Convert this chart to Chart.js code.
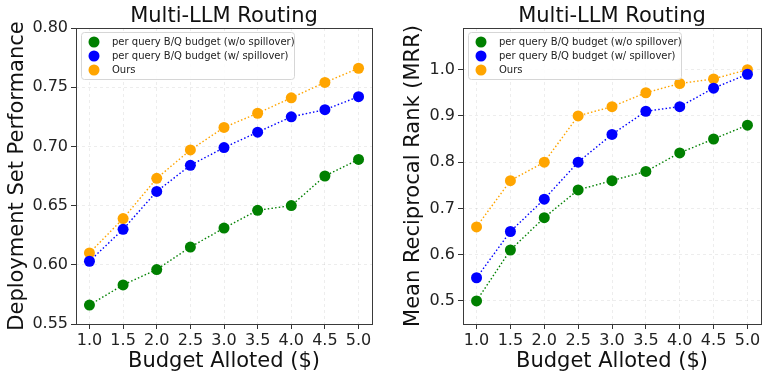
<!DOCTYPE html>
<html><head><meta charset="utf-8">
<script src="https://cdn.jsdelivr.net/npm/chart.js@4"></script>
<style>
html,body{margin:0;padding:0;background:#fff;}
#wrap{position:relative;width:767px;height:378px;}
#c1{position:absolute;left:0;top:0;}
#c2{position:absolute;left:384px;top:0;}
</style></head><body>
<div id="wrap"><canvas id="c1" width="384" height="378"></canvas><canvas id="c2" width="383" height="378"></canvas></div>
<script>
const budgets = [1.0, 1.5, 2.0, 2.5, 3.0, 3.5, 4.0, 4.5, 5.0];
const seriesLabels = ['per query B/Q budget (w/o spillover)', 'per query B/Q budget (w/ spillover)', 'Ours'];
const chartTitle = 'Multi-LLM Routing';
const xTitle = 'Budget Alloted ($)';

// Left panel: Deployment Set Performance
const perfNoSpill = [0.566, 0.583, 0.596, 0.615, 0.631, 0.646, 0.650, 0.675, 0.689];
const perfSpill   = [0.603, 0.630, 0.662, 0.684, 0.699, 0.712, 0.725, 0.731, 0.742];
const perfOurs    = [0.610, 0.639, 0.673, 0.697, 0.716, 0.728, 0.741, 0.754, 0.766];
const perfTicks   = [0.55, 0.60, 0.65, 0.70, 0.75, 0.80];

// Right panel: Mean Reciprocal Rank
const mrrNoSpill = [0.50, 0.61, 0.68, 0.74, 0.76, 0.78, 0.82, 0.85, 0.88];
const mrrSpill   = [0.55, 0.65, 0.72, 0.80, 0.86, 0.91, 0.92, 0.96, 0.99];
const mrrOurs    = [0.66, 0.76, 0.80, 0.90, 0.92, 0.95, 0.97, 0.98, 1.00];
const mrrTicks   = [0.5, 0.6, 0.7, 0.8, 0.9, 1.0];

const colors = ['#008000', '#0000ff', '#ffa500'];
const FONT = "'DejaVu Sans', sans-serif";

function mkDatasets(arrs) {
  return arrs.map((a, i) => ({
    label: seriesLabels[i],
    data: budgets.map((b, j) => ({x: b, y: a[j]})),
    borderColor: colors[i],
    backgroundColor: colors[i],
    pointBackgroundColor: colors[i],
    pointBorderColor: colors[i],
    pointRadius: 5.5,
    pointBorderWidth: 0,
    borderWidth: 1.4,
    borderDash: [1.5, 2.2],
    showLine: true,
    tension: 0,
    fill: false
  }));
}

const framePlugin = {
  id: 'frame',
  afterDraw(chart) {
    const {ctx, chartArea: a} = chart;
    ctx.save();
    ctx.strokeStyle = '#3a3a3a';
    ctx.lineWidth = 1;
    ctx.strokeRect(Math.round(a.left) + 0.5, Math.round(a.top) + 0.5, Math.round(a.right - a.left), Math.round(a.bottom - a.top));
    // title
    ctx.fillStyle = '#111';
    ctx.font = "21px " + FONT;
    ctx.textAlign = 'center';
    ctx.textBaseline = 'alphabetic';
    ctx.fillText(chartTitle, (a.left + a.right) / 2, 22);
    // legend
    const lx = a.left + 5, ly = a.top + 4, w = 213, h = 47;
    ctx.beginPath();
    if (ctx.roundRect) ctx.roundRect(lx + 0.5, ly + 0.5, w, h, 3); else ctx.rect(lx + 0.5, ly + 0.5, w, h);
    ctx.fillStyle = 'rgba(255,255,255,0.85)';
    ctx.fill();
    ctx.strokeStyle = '#d6d6d6';
    ctx.stroke();
    chart.data.datasets.forEach((ds, i) => {
      const cy = ly + 10 + i * 14;
      ctx.beginPath();
      ctx.arc(lx + 13, cy, 5.5, 0, Math.PI * 2);
      ctx.fillStyle = ds.backgroundColor;
      ctx.fill();
      ctx.fillStyle = '#222';
      ctx.font = "10px " + FONT;
      ctx.textAlign = 'left';
      ctx.textBaseline = 'middle';
      ctx.fillText(ds.label, lx + 31, cy);
    });
    ctx.restore();
  }
};

function mkChart(id, arrs, yTicks, ymin, ymax, yTitle, yWidth, padRight, yTitlePad, decimals) {
  return new Chart(document.getElementById(id), {
    type: 'scatter',
    data: {datasets: mkDatasets(arrs)},
    options: {
      responsive: false,
      animation: false,
      devicePixelRatio: 1,
      layout: {padding: {left: 0, right: padRight, top: 28, bottom: 0}},
      plugins: {legend: {display: false}, title: {display: false}, tooltip: {enabled: false}},
      scales: {
        x: {
          type: 'linear', min: 0.8, max: 5.2,
          afterFit(s) { s.height = 54; },
          afterBuildTicks(s) { s.ticks = budgets.map(v => ({value: v})); },
          ticks: {color: '#222', font: {family: FONT, size: 16}, padding: 2, maxRotation: 0,
                  callback: v => Number(v).toFixed(1)},
          grid: {color: 'rgba(0,0,0,0.07)', tickColor: '#333', tickLength: 5, tickBorderDash: []},
          border: {display: false, dash: [3, 3]},
          title: {display: true, text: xTitle, color: '#111', font: {family: FONT, size: 21}, padding: {top: 0, bottom: 4}}
        },
        y: {
          type: 'linear', min: ymin, max: ymax,
          afterFit(s) { s.width = yWidth; },
          afterBuildTicks(s) { s.ticks = yTicks.map(v => ({value: v})); },
          ticks: {color: '#222', font: {family: FONT, size: 16}, padding: 3,
                  callback: v => Number(v).toFixed(decimals)},
          grid: {color: 'rgba(0,0,0,0.07)', tickColor: '#333', tickLength: 5, tickBorderDash: []},
          border: {display: false, dash: [3, 3]},
          title: {display: true, text: yTitle, color: '#111', font: {family: FONT, size: 21}, padding: {top: yTitlePad, bottom: 0}}
        }
      }
    },
    plugins: [framePlugin]
  });
}

mkChart('c1', [perfNoSpill, perfSpill, perfOurs], perfTicks, 0.55, 0.80, 'Deployment Set Performance', 76, 12, 5, 2);
mkChart('c2', [mrrNoSpill, mrrSpill, mrrOurs], mrrTicks, 0.45, 1.09, 'Mean Reciprocal Rank (MRR)', 79, 6, 17, 1);
</script>
</body></html>
